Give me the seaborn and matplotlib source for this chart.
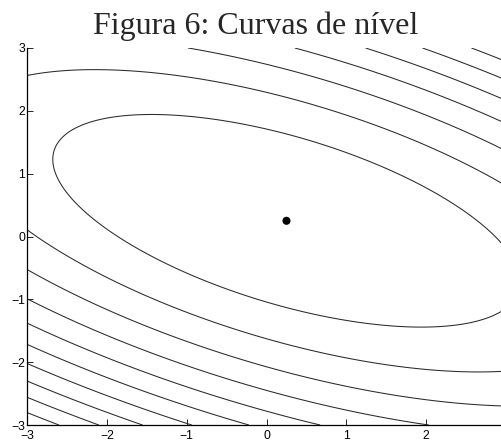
import numpy as np
import matplotlib
matplotlib.use("Agg")
import matplotlib.pyplot as plt
import seaborn as sns

# f(x, y) = a*x^2 + b*x*y + c*y^2 + d*x + e*y
coef_a, coef_b, coef_c, coef_d, coef_e = 1.0, 2.0, 3.0, -1.0, -2.0
levels = [5.35, 11.2, 17.05, 22.9, 28.75, 34.6, 40.45, 46.3, 52.15, 58.0]
minimum_x = [0.25]
minimum_y = [0.25]
ticks = [-3, -2, -1, 0, 1, 2, 3]

sns.set_style("ticks")
plt.rcParams["font.family"] = ["Liberation Sans", "DejaVu Sans"]
plt.rcParams["axes.unicode_minus"] = True

fig = plt.figure(figsize=(5.02, 4.41), dpi=100)
ax = fig.add_axes([27.3 / 502, 16 / 441, 478.5 / 502, 377 / 441])

gx = np.linspace(-3, 3, 400)
gy = np.linspace(-3, 3, 400)
X, Y = np.meshgrid(gx, gy)
Z = coef_a * X**2 + coef_b * X * Y + coef_c * Y**2 + coef_d * X + coef_e * Y

ax.contour(X, Y, Z, levels=levels, colors="#2a2a2a", linewidths=0.75)
sns.scatterplot(x=minimum_x, y=minimum_y, ax=ax, color="black", s=34,
                edgecolor="none", zorder=5)

ax.set_xlim(-3, 3)
ax.set_ylim(-3, 3)
ax.set_xticks(ticks)
ax.set_yticks(ticks)
ax.tick_params(direction="in", length=4, width=0.6, labelsize=8.8,
               colors="black")
ax.tick_params(axis="x", pad=3.5)
ax.tick_params(axis="y", pad=1.5)
sns.despine(ax=ax)
for side in ["left", "bottom"]:
    ax.spines[side].set_linewidth(0.9)
    ax.spines[side].set_color("black")
ax.set_xlabel("")
ax.set_ylabel("")

fig.text(256 / 502, 1 - 26 / 441, "Figura 6: Curvas de nível",
         family=["Liberation Serif", "DejaVu Serif"], fontsize=23,
         ha="center", va="center")

fig.savefig("out.png", dpi=100)
